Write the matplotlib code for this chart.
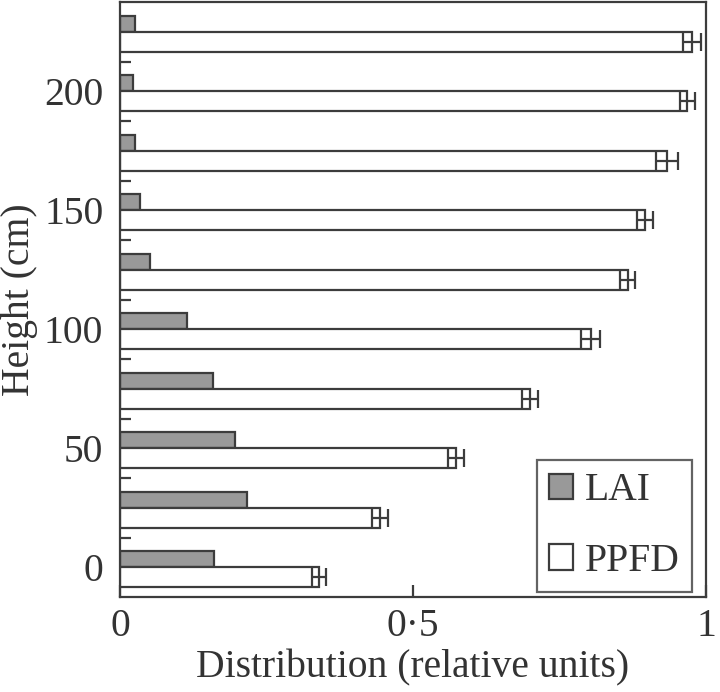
import matplotlib
matplotlib.use("Agg")
import matplotlib.pyplot as plt
import numpy as np

heights = [0, 25, 50, 75, 100, 125, 150, 175, 200, 225]
lai = [0.161, 0.217, 0.196, 0.158, 0.115, 0.051, 0.034, 0.026, 0.022, 0.026]
ppfd = [0.340, 0.443, 0.573, 0.700, 0.803, 0.866, 0.896, 0.933, 0.968, 0.976]
ppfd_err = [0.012, 0.0135, 0.0135, 0.014, 0.016, 0.0135, 0.0135, 0.019, 0.013, 0.016]
y_ticks = [0, 50, 100, 150, 200]
x_ticks = [0, 0.5, 1]
x_labels = ["0", "0·5", "1"]

plt.rcParams['font.family'] = ['Liberation Serif', 'DejaVu Serif']
edge = '#3c3c3c'
txt = '#333333'
fs = 28.5

fig = plt.figure(figsize=(7.2, 6.92), dpi=100)
ax = fig.add_axes([0.1667, 0.137, 0.8139, 0.860])

h_lai = 6.7
h_ppfd = 8.4
ax.barh(heights, lai, height=h_lai, align='edge', color='#999999',
        edgecolor=edge, linewidth=1.6, label='LAI', zorder=2)
ax.barh(heights, ppfd, height=-h_ppfd, align='edge', color='white',
        edgecolor=edge, linewidth=1.6, label='PPFD', zorder=2)
ax.errorbar(ppfd, np.array(heights) - h_ppfd / 2, xerr=ppfd_err, fmt='none',
            ecolor=edge, elinewidth=1.6, capsize=6.5, capthick=1.6, zorder=3)

ax.set_xlim(0, 1)
ax.set_ylim(-12.5, 237.5)

ax.set_xticks(x_ticks)
ax.set_xticklabels(x_labels)
ax.set_yticks(y_ticks)
ax.set_yticks(np.arange(12.5, 225, 25), minor=True)
ax.tick_params(axis='x', which='major', direction='in', length=9, width=1.6,
               color=edge, labelsize=fs, pad=8, labelcolor=txt)
ax.tick_params(axis='y', which='major', length=0, labelsize=fs, pad=12,
               labelcolor=txt)
ax.tick_params(axis='y', which='minor', direction='in', length=8, width=1.6,
               color=edge)
ax.tick_params(axis='x', which='minor', length=0)

for s in ax.spines.values():
    s.set_linewidth(1.6)
    s.set_color(edge)

ax.set_xlabel('Distribution (relative units)', fontsize=fs, color=txt,
              labelpad=3)
ax.set_ylabel('Height (cm)', fontsize=fs, color=txt, labelpad=4)

leg = ax.legend(loc='lower right', bbox_to_anchor=(0.976, 0.009),
                fontsize=fs, frameon=True, fancybox=False,
                edgecolor=edge, handlelength=0.62, handleheight=0.62,
                handletextpad=0.3, labelspacing=0.85, borderpad=0.3,
                borderaxespad=0)
leg.get_frame().set_linewidth(1.6)
for t in leg.get_texts():
    t.set_color(txt)

fig.savefig('out.png', dpi=100)
